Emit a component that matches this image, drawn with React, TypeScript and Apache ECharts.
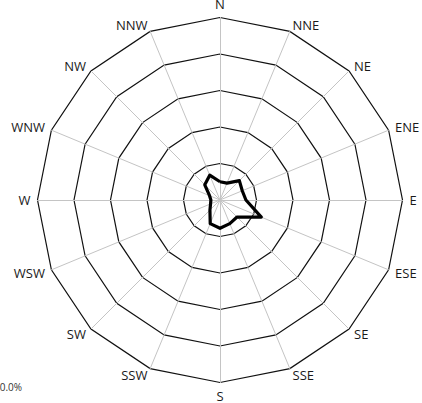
import React, { useEffect, useRef } from "react";
import * as echarts from "echarts";

// clockwise from north
const directions = ["N", "NNE", "NE", "ENE", "E", "ESE", "SE", "SSE", "S", "SSW", "SW", "WSW", "W", "WNW", "NW", "NNW"];
const frequency = [1.0, 1.0, 1.5, 1.32, 1.42, 2.45, 1.32, 1.4, 1.55, 1.4, 0.78, 0.56, 0.5, 0.62, 1.18, 1.47];
const maxValue = 10;
const cornerLabel = "10.0%";

// ECharts radar runs counter-clockwise; reorder so that the compass runs clockwise
const order = directions.map((_, i) => (i === 0 ? 0 : directions.length - i));

export default function App() {
  const ref = useRef<HTMLDivElement>(null);
  useEffect(() => {
    document.body.style.margin = "0";
    const chart = echarts.init(ref.current!, null, { renderer: "svg" });
    chart.setOption({
      animation: false,
      backgroundColor: "#ffffff",
      radar: {
        center: [220, 200],
        radius: 182.5,
        startAngle: 90,
        shape: "polygon",
        splitNumber: 5,
        indicator: order.map((i) => ({ name: directions[i], max: maxValue, min: 0 })),
        axisName: { color: "#1a1a1a", fontSize: 13, fontFamily: "Open Sans" },
        nameGap: 7,
        splitArea: { show: false },
        splitLine: { lineStyle: { color: "#111", width: 1.2 } },
        axisLine: { lineStyle: { color: "#c4c4c4", width: 1 } },
      },
      graphic: [
        {
          type: "text",
          x: 22,
          y: 387,
          style: { text: cornerLabel, align: "right", verticalAlign: "middle", fill: "#333", fontSize: 10, fontFamily: "Open Sans" },
        },
      ],
      series: [
        {
          type: "radar",
          symbol: "none",
          lineStyle: { color: "#000", width: 3.2 },
          data: [{ value: order.map((i) => frequency[i]), name: "Frequency" }],
        },
      ],
    });
    return () => chart.dispose();
  }, []);
  return <div ref={ref} style={{ width: 422, height: 403 }} />;
}
